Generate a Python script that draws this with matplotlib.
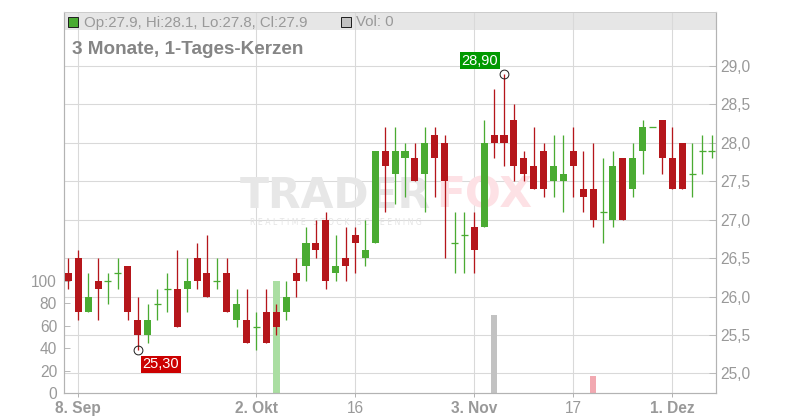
import numpy as np
import matplotlib
matplotlib.use("Agg")
import matplotlib.pyplot as plt
from matplotlib.patches import Rectangle
from matplotlib.ticker import FuncFormatter, FixedLocator
from matplotlib.transforms import blended_transform_factory

plt.rcParams['font.family'] = ['Liberation Sans', 'DejaVu Sans']

# ---------------- data ----------------
opens = [26.3, 26.5, 25.8, 26.2, 26.2, 26.3, 26.4, 25.7, 25.5, 25.9, 26.1, 26.1, 26.1, 26.5, 26.3, 26.2,
         26.3, 25.7, 25.7, 25.6, 25.8, 25.8, 25.8, 26.3, 26.4, 26.7, 27.0, 26.3, 26.5, 26.8, 26.5, 26.7,
         27.9, 27.6, 27.8, 27.8, 27.6, 28.1, 28.0, 26.7, 26.8, 26.9, 26.9, 28.1, 28.1, 28.3, 27.8, 27.7,
         27.9, 27.5, 27.5, 27.9, 27.4, 27.4, 27.1, 27.0, 27.8, 27.4, 27.9, 28.2, 28.3, 27.8, 28.0, 27.6,
         27.9, 27.9]
highs = [26.5, 26.6, 26.3, 26.5, 26.3, 26.5, 26.4, 26.0, 25.9, 26.1, 26.3, 26.6, 26.5, 26.7, 26.8, 26.5,
         26.5, 26.1, 26.1, 25.8, 26.1, 25.9, 26.2, 26.5, 26.9, 27.0, 27.1, 26.8, 26.9, 26.9, 27.0, 27.9,
         28.2, 28.2, 28.0, 28.0, 28.2, 28.2, 28.1, 27.1, 27.1, 27.1, 28.3, 28.7, 28.9, 28.5, 27.9, 28.2,
         28.0, 28.1, 28.1, 28.2, 27.9, 28.0, 27.8, 27.9, 27.8, 28.0, 28.3, 28.2, 28.3, 28.2, 28.0, 28.0,
         28.1, 28.1]
lows = [26.1, 25.7, 25.8, 25.7, 25.9, 26.1, 25.7, 25.3, 25.4, 25.7, 25.8, 25.6, 25.8, 26.1, 26.0, 26.1,
        25.8, 25.6, 25.4, 25.3, 25.4, 25.5, 25.7, 26.0, 26.2, 26.5, 26.1, 26.2, 26.2, 26.3, 26.4, 26.7,
        27.1, 27.2, 27.3, 27.5, 27.1, 27.3, 26.5, 26.3, 26.3, 26.3, 26.9, 27.8, 27.7, 27.5, 27.5, 27.4,
        27.3, 27.3, 27.1, 27.3, 27.1, 26.9, 26.7, 26.9, 27.0, 27.3, 27.6, 28.2, 27.6, 27.4, 27.4, 27.3,
        27.6, 27.8]
closes = [26.2, 25.8, 26.0, 26.1, 26.2, 26.3, 25.8, 25.5, 25.7, 25.9, 26.1, 25.6, 26.2, 26.2, 26.0, 26.2,
          25.8, 25.9, 25.4, 25.6, 25.4, 25.6, 26.0, 26.2, 26.7, 26.6, 26.2, 26.4, 26.4, 26.7, 26.6, 27.9,
          27.7, 27.9, 27.9, 27.5, 28.0, 27.8, 27.5, 26.7, 26.8, 26.6, 28.0, 28.0, 28.0, 27.7, 27.6, 27.4,
          27.4, 27.7, 27.6, 27.7, 27.3, 27.0, 27.1, 27.7, 27.0, 27.8, 28.2, 28.2, 27.8, 27.4, 27.4, 27.6,
          27.9, 27.9]
volumes = [0, 0, 0, 0, 0, 0, 0, 0, 0, 0, 0, 0, 0, 0, 0, 0,
           0, 0, 0, 0, 0, 100, 0, 0, 0, 0, 0, 0, 0, 0, 0, 0,
           0, 0, 0, 0, 0, 0, 0, 0, 0, 0, 0, 70, 0, 0, 0, 0,
           0, 0, 0, 0, 0, 15, 0, 0, 0, 0, 0, 0, 0, 0, 0, 0,
           0, 0]
tick_pos = [1, 19, 29, 41, 51, 61]
tick_labels = ["8. Sep", "2. Okt", "16", "3. Nov", "17", "1. Dez"]
tick_bold = [True, True, False, True, False, True]
price_ticks = [25.0, 25.5, 26.0, 26.5, 27.0, 27.5, 28.0, 28.5, 29.0]
vol_ticks = [0, 20, 40, 60, 80, 100]
low_idx, low_val, low_label = 7, 25.3, "25,30"
high_idx, high_val, high_label = 44, 28.9, "28,90"
title = "3 Monate, 1-Tages-Kerzen"
legend_text = "Op:27.9, Hi:28.1, Lo:27.8, Cl:27.9"
vol_text = "Vol: 0"

# ---------------- styling ----------------
RED = '#b5161b'
GREEN = '#4aab32'
VGREEN = '#aadea2'
VRED = '#f2a9b1'
VGREY = '#c2c2c2'
GRID = '#d9d9d9'
AXIS = '#b3b3b3'
TXT = '#999999'
PX = 72 / 100.0  # one pixel in points

W, H = 800, 420
fig = plt.figure(figsize=(W / 100, H / 100), dpi=100)
fx = lambda px: px / W
fy = lambda py: 1 - py / H

L, R, T, B = 64, 716, 12, 393
ax_vol = fig.add_axes([fx(L), fy(B), (R - L) / W, (B - T) / H])
ax = ax_vol.twinx()

n = len(opens)
x = np.arange(n)
o = np.array(opens); c = np.array(closes); h = np.array(highs); lo = np.array(lows)

ax.set_xlim(-0.44, 65.41)
ax.set_ylim(24.744, 29.703)
ax_vol.set_ylim(0, 340)

# legend bar background
ax_vol.add_patch(Rectangle((0, (B - 30) / (B - T)), 1, 18 / (B - T), transform=ax_vol.transAxes,
                           facecolor='#e6e6e6', edgecolor='none', zorder=0.5))

# gridlines (on bottom axes, below volume)
htrans = blended_transform_factory(ax_vol.transAxes, ax.transData)
for p in price_ticks:
    ax_vol.plot([0, 1], [p, p], transform=htrans, color=GRID, lw=PX * 1.1, zorder=1)
for tp in tick_pos:
    ax_vol.axvline(tp, color=GRID, lw=PX * 1.1, zorder=1)

# volume bars
vcols = []
for i in range(n):
    if i == 0 or c[i] == c[i - 1]:
        vcols.append(VGREY)
    elif c[i] > c[i - 1]:
        vcols.append(VGREEN)
    else:
        vcols.append(VRED)
ax_vol.bar(x, volumes, width=0.68, color=vcols, linewidth=0, zorder=2)

# watermark
ax_vol.text(fx(240), fy(208), "TRADER", transform=fig.transFigure, fontsize=30.5,
            fontweight='bold', family='DejaVu Sans', color='#e7e7e7', ha='left', va='baseline', zorder=1.5)
ax_vol.text(fx(436), fy(208), "FOX", transform=fig.transFigure, fontsize=30.5,
            fontweight='bold', family='DejaVu Sans', color='#fde1e5', ha='left', va='baseline', zorder=1.5)
ax_vol.text(fx(250), fy(225), "R E A L T I M E   S T O C K   S C R E E N I N G", transform=fig.transFigure,
            fontsize=5.6, family='DejaVu Sans', color='#e4e4e4', ha='left', va='baseline', zorder=1.5)

# candles
bw = 0.71
up = c >= o
cols = np.where(up, GREEN, RED)
ax.vlines(x, lo, h, colors=cols, lw=PX * 1.3, zorder=3)
body_h = np.abs(c - o)
mask = body_h > 1e-9
ax.bar(x[mask], body_h[mask], bottom=np.minimum(o, c)[mask], width=bw, color=cols[mask],
       linewidth=0, zorder=4)
dm = ~mask
ax.hlines(o[dm], x[dm] - bw / 2, x[dm] + bw / 2, colors=cols[dm], lw=PX * 1.3, zorder=4)

# high / low flags
for idx, val, lab, fc, off, ha, va in [
        (low_idx, low_val, low_label, '#cc0000', (5, -7), 'left', 'top'),
        (high_idx, high_val, high_label, '#009900', (-6, 6), 'right', 'bottom')]:
    ax.plot([idx], [val], marker='o', ms=8 * PX * 1.1, mfc='none', mec='#222222', mew=PX, zorder=6)
    ax.annotate(lab, xy=(idx, val), xytext=off, textcoords='offset pixels', ha=ha, va=va,
                color='white', fontsize=10.5, zorder=7,
                bbox=dict(boxstyle='square,pad=0.12', fc=fc, ec='none'))

# axes styling
for a in (ax, ax_vol):
    for s in ('left', 'right', 'bottom'):
        a.spines[s].set_color(AXIS)
        a.spines[s].set_linewidth(PX * 1.1)
    a.spines['top'].set_color('#cccccc')
    a.spines['top'].set_linewidth(PX)

ax.yaxis.set_major_locator(FixedLocator(price_ticks))
ax.yaxis.set_major_formatter(FuncFormatter(lambda v, p: f"{v:.1f}".replace('.', ',')))
ax.tick_params(axis='y', which='both', direction='in', length=5, color='#bbbbbb', width=PX,
               labelcolor=TXT, labelsize=11.2, pad=3)
ax_vol.yaxis.set_major_locator(FixedLocator(vol_ticks))
ax_vol.tick_params(axis='y', direction='in', length=4, color='#bbbbbb', width=PX,
                   labelcolor=TXT, labelsize=11.2, pad=5)

ax_vol.set_xticks(tick_pos)
ax_vol.set_xticklabels(tick_labels)
ax_vol.tick_params(axis='x', direction='out', length=3, color=AXIS, width=PX,
                   labelcolor=TXT, labelsize=11.2, pad=3)
for lbl, b in zip(ax_vol.get_xticklabels(), tick_bold):
    lbl.set_fontweight('bold' if b else 'normal')
ax.tick_params(axis='x', length=0, labelbottom=False)

# title and legend texts
fig.text(fx(72), fy(54), title, fontsize=13.6, fontweight='bold', color='#858585',
         ha='left', va='baseline')
fig.add_artist(Rectangle((fx(68), fy(27)), 10 / W, 10 / H, transform=fig.transFigure,
                         facecolor=GREEN, edgecolor='#222222', lw=PX))
fig.text(fx(84), fy(26.5), legend_text, fontsize=10.8, color=TXT, ha='left', va='baseline')
fig.add_artist(Rectangle((fx(341), fy(27)), 10 / W, 10 / H, transform=fig.transFigure,
                         facecolor=VGREY, edgecolor='#222222', lw=PX))
fig.text(fx(356), fy(26.5), vol_text, fontsize=10.8, color=TXT, ha='left', va='baseline')

fig.savefig("out.png", dpi=100)
